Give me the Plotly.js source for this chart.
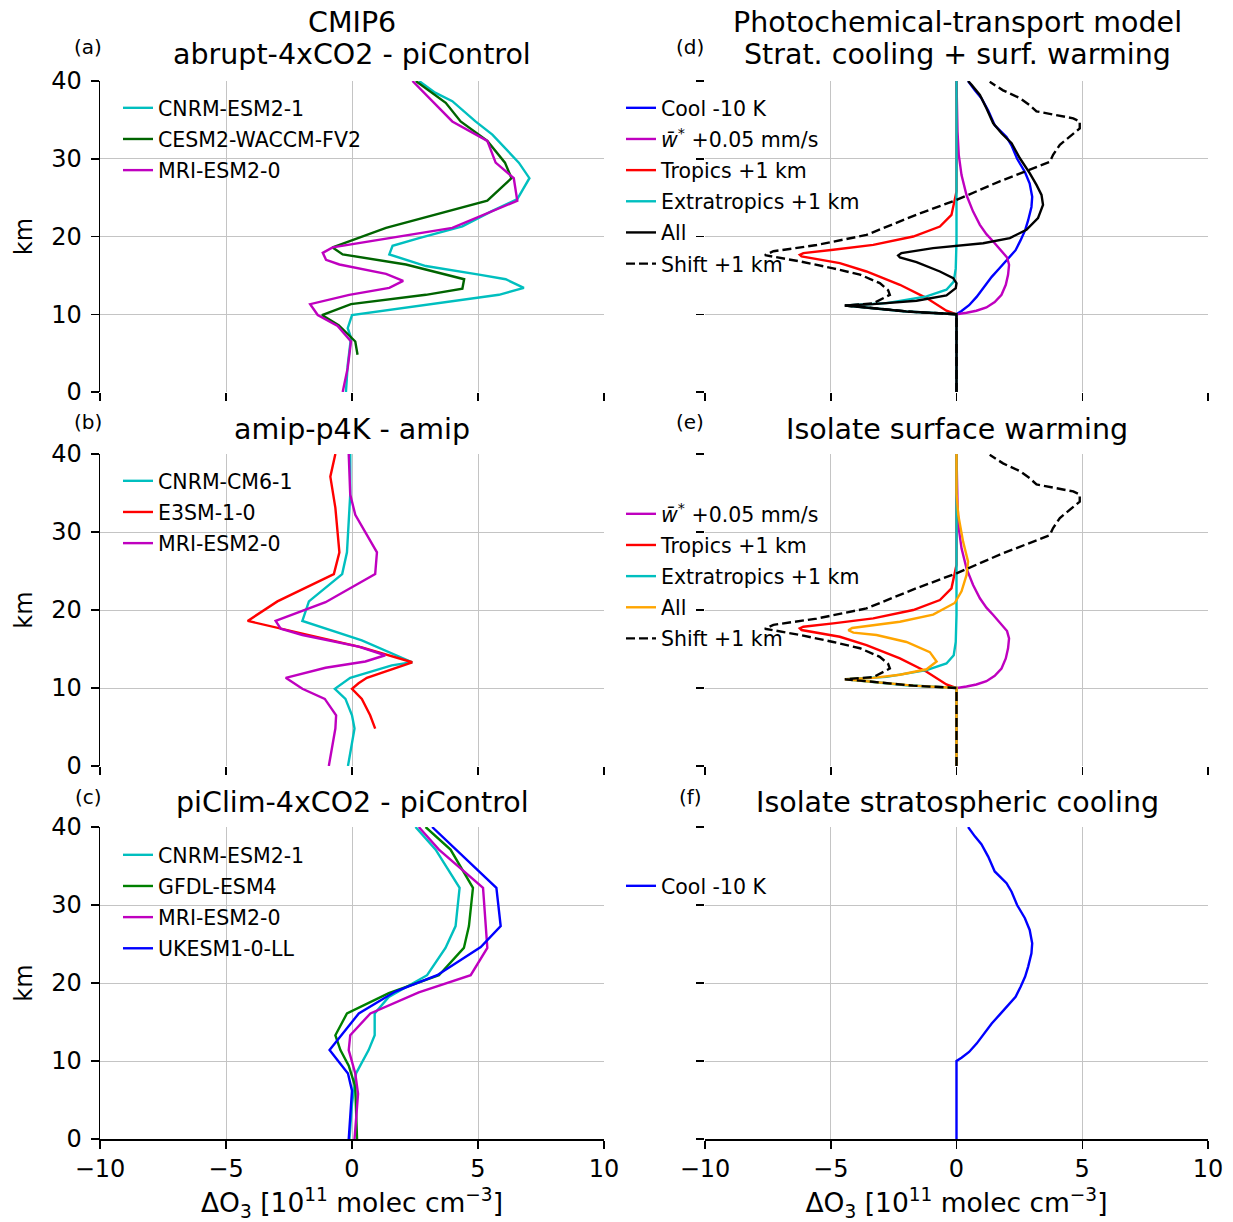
<!DOCTYPE html>
<html>
<head>
<meta charset="utf-8">
<script src="https://cdn.plot.ly/plotly-3.0.1.min.js"></script>
<style>html,body{margin:0;padding:0;background:#fff;}#chart{width:1233px;height:1222px;}</style>
</head>
<body>
<div id="chart"></div>
<script>
// ---------- Panel (a): CMIP6 abrupt-4xCO2 - piControl ----------
const a_cnrm_z = [0, 3.5, 7, 8.2, 9.9, 12.5, 13.4, 14.5, 15.1, 16.2, 17.7, 18.8, 19.8, 21.3, 23.3, 24.8, 27.5, 29.5, 33.1, 34.8, 37.4, 38.5, 40];
const a_cnrm_x = [-0.24, -0.17, -0.04, -0.17, 0, 5.83, 6.82, 6.1, 5.04, 2.93, 1.48, 1.61, 2.66, 4.38, 5.57, 6.56, 7.04, 6.62, 5.57, 4.9, 3.98, 3.3, 2.66];
const a_cesm_z = [4.8, 6.5, 8.6, 9.9, 11.3, 12.5, 13.3, 14.5, 16.4, 17.7, 18.6, 21.1, 24.6, 27.5, 29.5, 32.3, 34.8, 37.2, 40];
const a_cesm_x = [0.22, 0.13, -0.53, -1.19, -0.04, 2.93, 4.38, 4.45, 2.14, -0.37, -0.77, 1.35, 5.37, 6.33, 6.07, 5.37, 4.31, 3.72, 2.53];
const a_mri_z = [0, 3.1, 6.5, 8.5, 9.9, 11.3, 12.5, 13.4, 14.3, 15.2, 16.4, 17.0, 17.9, 18.6, 21.1, 24.6, 27.5, 29.5, 32.3, 34.8, 40];
const a_mri_x = [-0.37, -0.17, -0.04, -0.57, -1.36, -1.66, -0.11, 1.48, 2.03, 1.35, -0.5, -1.03, -1.16, -0.77, 3.98, 6.56, 6.42, 5.7, 5.37, 3.98, 2.4];

// ---------- Panel (b): amip-p4K - amip ----------
const b_e3sm_z = [4.8, 6.5, 8.6, 9.9, 10.6, 11.3, 13.3, 15.2, 18.6, 21.1, 24.6, 27.4, 33.1, 37.1, 40];
const b_e3sm_x = [0.92, 0.72, 0.39, 0, 0.26, 0.59, 2.39, 0.39, -4.14, -2.96, -0.72, -0.5, -0.66, -0.86, -0.66];
const b_cnrm_z = [0, 4.8, 6.5, 8.6, 9.9, 11.3, 12.9, 13.3, 16.1, 18.6, 21.1, 24.6, 27.4, 34.8, 40];
const b_cnrm_x = [-0.16, 0.1, 0, -0.26, -0.68, -0.07, 1.58, 2.39, 0.39, -1.97, -1.71, -0.39, -0.2, -0.07, -0.07];
const b_mri_z = [0, 4.8, 6.5, 8.6, 9.9, 11.3, 12.6, 13.4, 14.2, 15.3, 16.8, 17.6, 18.6, 21.0, 24.6, 27.4, 32.2, 34.8, 40];
const b_mri_x = [-0.92, -0.66, -0.63, -1.08, -1.97, -2.63, -1.05, 0.53, 1.32, 0.26, -1.97, -2.83, -3.03, -1.05, 0.92, 0.99, 0.13, -0.07, -0.13];

// ---------- Panel (c): piClim-4xCO2 - piControl ----------
const c_cnrm_z = [0, 4.5, 8.4, 11.4, 13.3, 16.1, 18.2, 21.0, 24.5, 27.3, 32.2, 37.1, 40];
const c_cnrm_x = [-0.1, 0, 0.16, 0.66, 0.9, 0.9, 1.46, 2.98, 3.71, 4.11, 4.27, 3.32, 2.52];
const c_gfdl_z = [0, 6.7, 9.4, 11.4, 13.3, 16.1, 18.7, 21.0, 24.5, 27.3, 32.2, 37.1, 40];
const c_gfdl_x = [0.2, 0.13, -0.13, -0.46, -0.66, -0.2, 1.46, 3.45, 4.44, 4.64, 4.8, 3.91, 2.92];
const c_mri_z = [0, 5.8, 8.4, 11.4, 13.3, 16.1, 18.8, 21.0, 24.5, 32.2, 37.1, 40];
const c_mri_x = [0.1, 0.24, 0.13, -0.13, -0.07, 0.73, 2.65, 4.71, 5.37, 5.2, 3.45, 2.65];
const c_ukesm_z = [0, 6.2, 8.4, 11.4, 16.1, 18.9, 21.0, 24.6, 27.3, 32.2, 40];
const c_ukesm_x = [-0.13, 0, -0.16, -0.89, 0.27, 1.72, 3.38, 5.11, 5.9, 5.73, 3.18];

// ---------- Panels (d)-(f): photochemical-transport model ----------
const cool_z = [0, 10, 10.43, 11.16, 12.23, 13.52, 14.81, 15.88, 17.17, 18.24, 19.53, 20.82, 22.1, 23.8, 25.1, 26.8, 28.3, 30.0, 31.7, 32.8, 34.3, 35.2, 36.2, 37.8, 38.8, 40];
const cool_x = [0, 0, 0.2, 0.5, 0.8, 1.1, 1.4, 1.7, 2.05, 2.35, 2.55, 2.73, 2.85, 2.98, 3.01, 2.91, 2.72, 2.41, 2.19, 1.99, 1.52, 1.39, 1.26, 0.99, 0.73, 0.46];
const wstar_z = [0, 10, 10.19, 10.45, 10.88, 11.56, 12.5, 13.79, 15.08, 16.36, 17.3, 18.16, 19.36, 20.3, 21.5, 23.2, 25.3, 27.9, 30.5, 33.5, 36.5, 40];
const wstar_x = [0, 0, 0.4, 0.79, 1.19, 1.52, 1.79, 1.96, 2.05, 2.09, 2.01, 1.79, 1.46, 1.19, 0.93, 0.66, 0.4, 0.2, 0.09, 0.04, 0.01, 0];
const trop_z = [0, 10, 10.45, 12.08, 13.79, 15.5, 16.57, 17.3, 17.43, 17.64, 17.86, 18.29, 18.93, 20.0, 21.28, 22.78, 24.5, 25.8, 40];
const trop_x = [0, 0, -0.4, -1.19, -2.25, -3.58, -4.64, -5.83, -6.16, -6.23, -6.09, -4.9, -3.31, -1.72, -0.66, -0.2, -0.07, 0, 0];
const extr_z = [0, 10, 10.36, 11.13, 11.43, 12.29, 13.15, 14.2, 15.9, 19.4, 40];
const extr_x = [0, 0, -2.0, -4.4, -2.78, -1.19, -0.4, -0.11, -0.03, 0, 0];
const all_z = [0, 10, 10.36, 11.13, 11.3, 11.73, 12.42, 13.36, 14.0, 14.65, 15.5, 16.7, 17.3, 17.56, 17.86, 18.5, 19.14, 19.79, 20.86, 22.36, 24.07, 25.35, 26.64, 28.14, 30.06, 32.0, 33.28, 34.56, 36.49, 38.2, 39.5, 40];
const all_x = [0, 0, -1.99, -4.44, -3.31, -1.59, -0.4, -0.03, 0, -0.13, -0.66, -1.59, -2.25, -2.32, -2.19, -0.93, 1.06, 2.12, 2.78, 3.24, 3.44, 3.38, 3.18, 2.91, 2.52, 2.19, 1.79, 1.46, 1.19, 0.93, 0.6, 0.46];
const shift_z = [0, 10, 10.3, 11.13, 11.4, 11.9, 12.5, 13.1, 14.0, 15.1, 15.9, 16.8, 17.2, 17.6, 18.1, 18.9, 20.2, 22.8, 24.7, 27.1, 29.6, 30.5, 31.8, 33.9, 34.8, 35.2, 36.1, 36.9, 37.8, 38.8, 39.9];
const shift_x = [0, 0, -1.72, -4.44, -3.31, -2.98, -2.65, -2.72, -3.05, -3.84, -4.9, -6.23, -7.02, -7.62, -7.28, -5.56, -3.58, -1.59, 0, 1.72, 3.71, 3.84, 4.11, 4.9, 4.9, 4.64, 3.18, 2.91, 2.52, 1.85, 1.32];
const allsurf_z = [0, 10, 10.3, 11.13, 11.3, 11.7, 12.4, 13.4, 14.6, 15.9, 16.8, 17.1, 17.4, 17.7, 18.5, 19.4, 20.9, 22.4, 24.5, 26.2, 28.8, 32.2, 35, 40];
const allsurf_x = [0, 0, -1.72, -4.44, -3.31, -2.25, -1.19, -0.79, -1.06, -1.99, -3.18, -4.1, -4.3, -4.15, -2.25, -0.93, -0.07, 0.2, 0.4, 0.46, 0.26, 0.07, 0, 0];

// ---------- Text ----------
const titles = [["CMIP6", "abrupt-4xCO2 - piControl"], ["amip-p4K - amip"], ["piClim-4xCO2 - piControl"],
  ["Photochemical-transport model", "Strat. cooling + surf. warming"], ["Isolate surface warming"], ["Isolate stratospheric cooling"]];
const panelLabels = ["(a)", "(b)", "(c)", "(d)", "(e)", "(f)"];
const xTickVals = [-10, -5, 0, 5, 10];
const yTickVals = [0, 10, 20, 30, 40];
const xTitle = "ΔO<sub>3</sub> [10<sup>11</sup> molec cm<sup>−3</sup>]";
const yTitle = "km";
const wLabel = "<i>w̄</i><sup>*</sup> +0.05 mm/s";

const FONT = "DejaVu Sans";
const C = {cyan: "#00BFBF", dgreen: "#006400", green: "#008000", mag: "#BF00BF", red: "#FF0000", blue: "#0000FF", orange: "#FFA500", black: "#000000"};

let gcount = 0;
function tr(x, y, name, color, ax, leg, dash) {
  gcount += 1;
  return {x: x, y: y, name: name, type: "scatter", mode: "lines",
    line: {color: color, width: 2.4, dash: dash || "solid"},
    xaxis: "x" + (ax === 1 ? "" : ax), yaxis: "y" + (ax === 1 ? "" : ax),
    legend: leg, legendgroup: "g" + gcount, hoverinfo: "skip"};
}

const data = [
  tr(a_cnrm_x, a_cnrm_z, "CNRM-ESM2-1", C.cyan, 1, "legend"),
  tr(a_cesm_x, a_cesm_z, "CESM2-WACCM-FV2", C.dgreen, 1, "legend"),
  tr(a_mri_x, a_mri_z, "MRI-ESM2-0", C.mag, 1, "legend"),

  tr(b_cnrm_x, b_cnrm_z, "CNRM-CM6-1", C.cyan, 2, "legend2"),
  tr(b_e3sm_x, b_e3sm_z, "E3SM-1-0", C.red, 2, "legend2"),
  tr(b_mri_x, b_mri_z, "MRI-ESM2-0", C.mag, 2, "legend2"),

  tr(c_cnrm_x, c_cnrm_z, "CNRM-ESM2-1", C.cyan, 3, "legend3"),
  tr(c_gfdl_x, c_gfdl_z, "GFDL-ESM4", C.green, 3, "legend3"),
  tr(c_mri_x, c_mri_z, "MRI-ESM2-0", C.mag, 3, "legend3"),
  tr(c_ukesm_x, c_ukesm_z, "UKESM1-0-LL", C.blue, 3, "legend3"),

  tr(cool_x, cool_z, "Cool -10 K", C.blue, 4, "legend4"),
  tr(wstar_x, wstar_z, wLabel, C.mag, 4, "legend4"),
  tr(trop_x, trop_z, "Tropics +1 km", C.red, 4, "legend4"),
  tr(extr_x, extr_z, "Extratropics +1 km", C.cyan, 4, "legend4"),
  tr(all_x, all_z, "All", C.black, 4, "legend4"),
  tr(shift_x, shift_z, "Shift +1 km", C.black, 4, "legend4", "9px,4px"),

  tr(wstar_x, wstar_z, wLabel, C.mag, 5, "legend5"),
  tr(trop_x, trop_z, "Tropics +1 km", C.red, 5, "legend5"),
  tr(extr_x, extr_z, "Extratropics +1 km", C.cyan, 5, "legend5"),
  tr(allsurf_x, allsurf_z, "All", C.orange, 5, "legend5"),
  tr(shift_x, shift_z, "Shift +1 km", C.black, 5, "legend5", "9px,4px"),

  tr(cool_x, cool_z, "Cool -10 K", C.blue, 6, "legend6")
];

// plot area: x 100..1208 px, y 81..1139 px
const PL = 100, PR = 1208, PT = 81, PB = 1139;
const W = 1233, H = 1222;
const px = v => (v - PL) / (PR - PL);
const py = v => (PB - v) / (PB - PT);

const xDom = [[px(100), px(604)], [px(705), px(1208)]];
const yDom = [[py(392), py(81)], [py(766), py(454)], [py(1139), py(827)]];

const layout = {
  width: W, height: H,
  margin: {l: PL, r: W - PR, t: PT, b: H - PB, pad: 0},
  paper_bgcolor: "#ffffff", plot_bgcolor: "#ffffff",
  font: {family: FONT, size: 24, color: "#000"},
  showlegend: true,
  annotations: [], shapes: []
};

function xax(dom, bottom) {
  return {domain: dom, range: [-10, 10], tickvals: xTickVals, ticktext: xTickVals.map(v => v < 0 ? "−" + Math.abs(v) : String(v)),
    showticklabels: bottom, ticks: "outside", ticklen: 8, tickwidth: 1.5, tickcolor: "#000", ticklabelstandoff: 0,
    showgrid: true, gridcolor: "#c4c4c4", gridwidth: 1, zeroline: false,
    showline: bottom, linecolor: "#000", linewidth: 1.5, mirror: false,
    tickfont: {size: 24, family: FONT}, fixedrange: true};
}
function yax(dom, left) {
  return {domain: dom, range: [0, 40], tickvals: yTickVals,
    showticklabels: left, ticks: "outside", ticklen: 8, tickwidth: 1.5, tickcolor: "#000", ticklabelstandoff: 4,
    showgrid: true, gridcolor: "#c4c4c4", gridwidth: 1, zeroline: false,
    showline: left, linecolor: "#000", linewidth: 1.5, mirror: false,
    tickfont: {size: 24, family: FONT}, fixedrange: true};
}

// axes: 1-3 left column rows a-c, 4-6 right column rows d-f
for (let i = 0; i < 6; i++) {
  const col = i < 3 ? 0 : 1, row = i % 3;
  const k = i === 0 ? "" : String(i + 1);
  const xa = xax(xDom[col], row === 2);
  const ya = yax(yDom[row], col === 0);
  ya.anchor = "x" + k; xa.anchor = "y" + k;
  if (row === 2) xa.title = {text: xTitle, font: {size: 26.5, family: FONT}, standoff: 18};
  if (col === 0) ya.title = {text: yTitle, font: {size: 24, family: FONT}, standoff: 12};
  layout["xaxis" + k] = xa;
  layout["yaxis" + k] = ya;
}

// titles and panel labels
const titleLineY = [[22, 55], [429], [802]];
const labelY = [47, 422, 797];
const colCenterX = [352, 957];
const labelX = [88, 690];
for (let i = 0; i < 6; i++) {
  const col = i < 3 ? 0 : 1, row = i % 3;
  const lines = titles[i];
  const ys = lines.length === 2 ? titleLineY[0] : titleLineY[row];
  lines.forEach((t, j) => {
    layout.annotations.push({text: t, xref: "paper", yref: "paper", x: px(colCenterX[col]), y: py(ys[j]),
      xanchor: "center", yanchor: "middle", showarrow: false, font: {size: 28.5, family: FONT}, borderpad: 0});
  });
  layout.annotations.push({text: panelLabels[i], xref: "paper", yref: "paper", x: px(labelX[col]), y: py(labelY[row]),
    xanchor: "center", yanchor: "middle", showarrow: false, font: {size: 20, family: FONT}, borderpad: 0});
}

// legends
function leg(xpx, ytop) {
  return {x: px(xpx), y: py(ytop), xref: "paper", yref: "paper", xanchor: "left", yanchor: "top",
    bgcolor: "rgba(0,0,0,0)", borderwidth: 0, font: {size: 20.5, family: FONT}, tracegroupgap: 1.5,
    itemclick: false, itemdoubleclick: false};
}
layout.legend = leg(118, 88);
layout.legend2 = leg(118, 461);
layout.legend3 = leg(118, 835);
layout.legend4 = leg(621, 88);
layout.legend5 = leg(621, 494);
layout.legend6 = leg(621, 866);

Plotly.newPlot("chart", data, layout, {displayModeBar: false, staticPlot: true});
</script>
</body>
</html>
